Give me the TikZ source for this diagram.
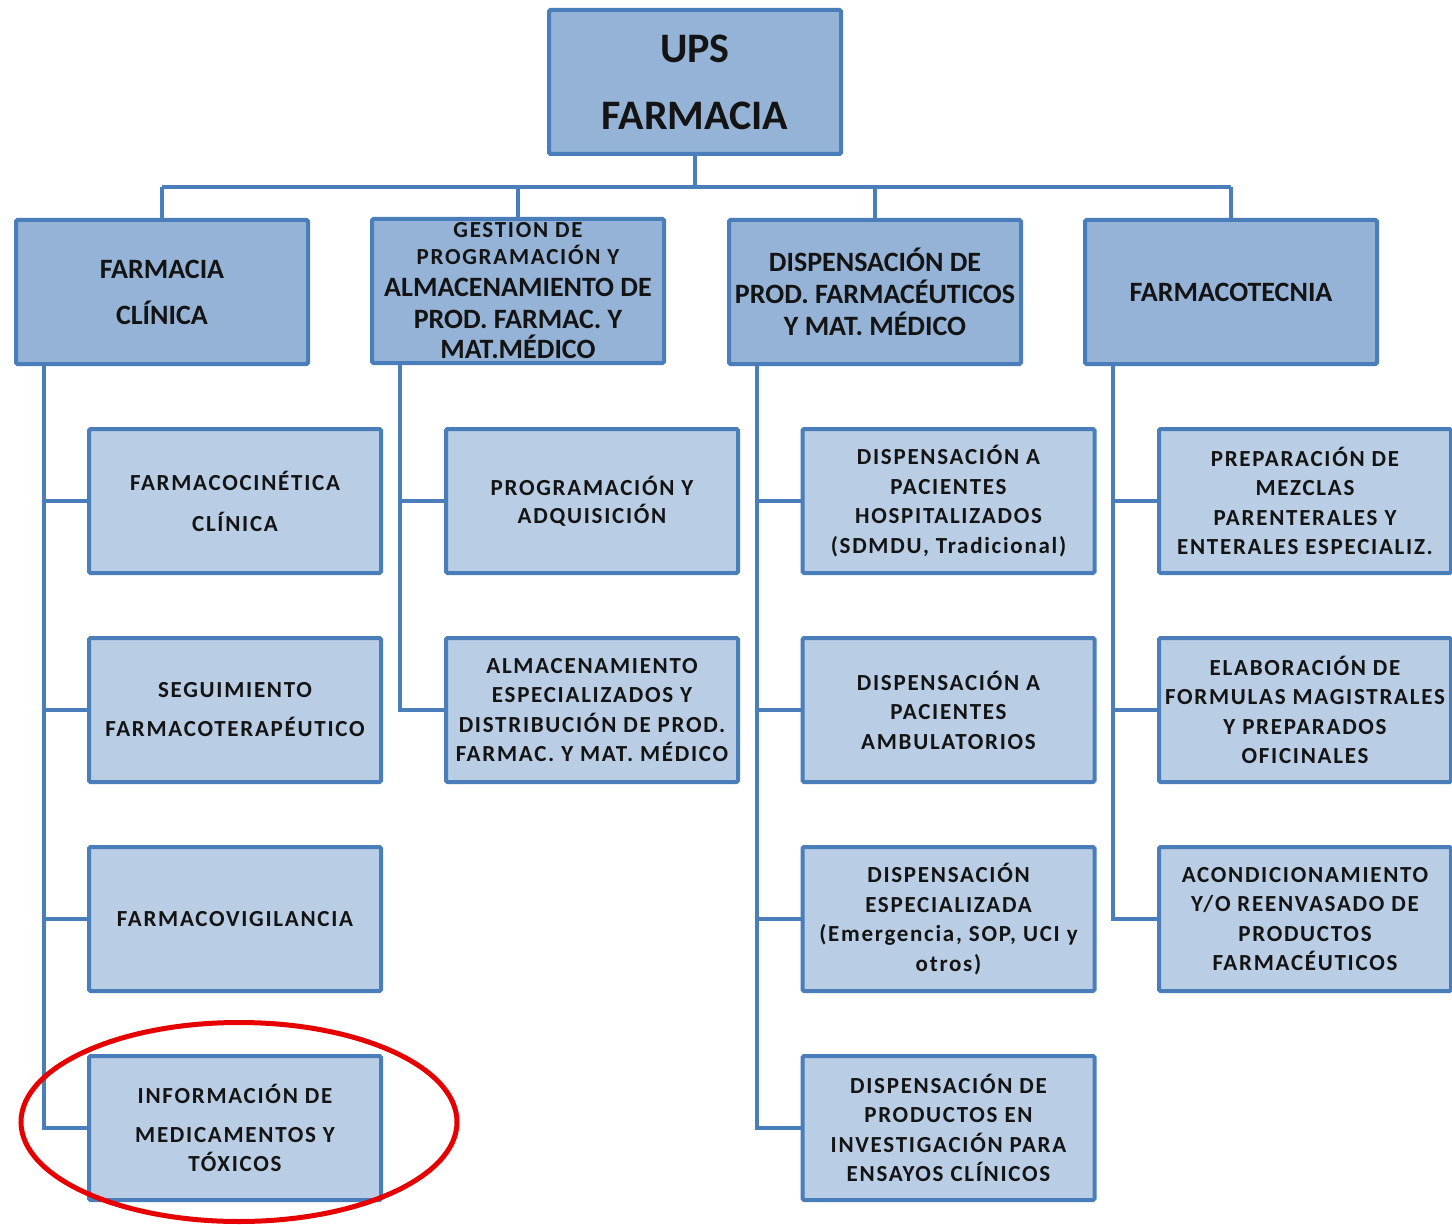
\documentclass[tikz,border=0pt]{standalone}
\usepackage{fontspec}
\setmainfont{Carlito}
\newfontfamily\cf{Carlito}[LetterSpace=7.5]
\usetikzlibrary{shapes.geometric}
\definecolor{bordc}{HTML}{4A7EBB}
\definecolor{topfill}{HTML}{95B3D7}
\definecolor{subfill}{HTML}{B9CDE5}
\definecolor{linkc}{HTML}{4A7EBB}
\definecolor{txt}{HTML}{141414}
\definecolor{hired}{HTML}{E60000}
\begin{document}
\begin{tikzpicture}[x=1pt,y=-1pt,
 topbox/.style={draw=bordc, fill=topfill, line width=4pt, rounded corners=1.5pt,
   minimum width=292pt, minimum height=144pt, align=center, inner sep=0pt,
   text=txt, font=\bfseries\fontsize{28}{32}\selectfont},
 subbox/.style={topbox, fill=subfill, font=\cf\bfseries\fontsize{23}{29.5}\selectfont},
 link/.style={draw=linkc, line width=3.8pt}]
\useasboundingbox (0,0) rectangle (1452,1225);
\fill[white] (0,0) rectangle (1452,1225);

% top levels
\node[topbox, font=\bfseries\fontsize{42}{67}\selectfont] (ups) at (695,82) {UPS\\FARMACIA};
\node[topbox] (fc) at (162,292) {FARMACIA\\[14pt]CLÍNICA};
\node[topbox] (gp) at (518,291) {{\cf\fontsize{23}{27}\selectfont GESTION DE}\\[-5pt]{\cf\fontsize{23}{27}\selectfont PROGRAMACIÓN Y}\\ALMACENAMIENTO DE\\PROD. FARMAC. Y\\[-2pt]MAT.MÉDICO};
\node[topbox] (dp) at (875,292) {DISPENSACIÓN DE\\PROD. FARMACÉUTICOS\\Y MAT. MÉDICO};
\node[topbox] (ft) at (1231,292) {FARMACOTECNIA};

% column 1
\node[subbox] (c11) at (235,501) {FARMACOCINÉTICA\\[11.5pt]CLÍNICA};
\node[subbox] (c12) at (235,710) {SEGUIMIENTO\\[9.5pt]FARMACOTERAPÉUTICO};
\node[subbox] (c13) at (235,919) {FARMACOVIGILANCIA};
\node[subbox] (c14) at (235,1128) {INFORMACIÓN DE\\[9.5pt]MEDICAMENTOS Y\\TÓXICOS};
% column 2
\node[subbox] (c21) at (592,501) {PROGRAMACIÓN Y\\[-1.5pt]ADQUISICIÓN};
\node[subbox] (c22) at (592,710) {ALMACENAMIENTO\\ESPECIALIZADOS Y\\DISTRIBUCIÓN DE PROD.\\FARMAC. Y MAT. MÉDICO};
% column 3
\node[subbox] (c31) at (948.5,501) {DISPENSACIÓN A\\PACIENTES\\HOSPITALIZADOS\\(SDMDU, Tradicional)};
\node[subbox] (c32) at (948.5,710) {DISPENSACIÓN A\\PACIENTES\\AMBULATORIOS};
\node[subbox] (c33) at (948.5,919) {DISPENSACIÓN\\ESPECIALIZADA\\(Emergencia, SOP, UCI y\\otros)};
\node[subbox] (c34) at (948.5,1128) {DISPENSACIÓN DE\\PRODUCTOS EN\\INVESTIGACIÓN PARA\\ENSAYOS CLÍNICOS};
% column 4
\node[subbox] (c41) at (1305,501) {PREPARACIÓN DE\\MEZCLAS\\PARENTERALES Y\\ENTERALES ESPECIALIZ.};
\node[subbox] (c42) at (1305,710) {ELABORACIÓN DE\\FORMULAS MAGISTRALES\\Y PREPARADOS\\OFICINALES};
\node[subbox] (c43) at (1305,919) {ACONDICIONAMIENTO\\Y/O REENVASADO DE\\PRODUCTOS\\FARMACÉUTICOS};

% connectors
\coordinate (bus) at (695,187);
\draw[link] (ups.south) -- (ups.south |- bus);
\draw[link] (fc.north |- bus) -- (ft.north |- bus);
\foreach \n in {fc,gp,dp,ft} \draw[link] (\n.north) -- (\n.north |- bus);

\coordinate (s1) at (44,366);
\coordinate (s2) at (400,366);
\coordinate (s3) at (757,366);
\coordinate (s4) at (1113,366);

\draw[link] (s1 |- fc.south) -- (s1 |- c14.west) -- (c14.west);
\foreach \n in {c11,c12,c13} \draw[link] (s1 |- \n.west) -- (\n.west);
\draw[link] (s2 |- gp.south) -- (s2 |- c22.west) -- (c22.west);
\draw[link] (s2 |- c21.west) -- (c21.west);
\draw[link] (s3 |- dp.south) -- (s3 |- c34.west) -- (c34.west);
\foreach \n in {c31,c32,c33} \draw[link] (s3 |- \n.west) -- (\n.west);
\draw[link] (s4 |- ft.south) -- (s4 |- c43.west) -- (c43.west);
\foreach \n in {c41,c42} \draw[link] (s4 |- \n.west) -- (\n.west);

% highlight
\node[ellipse, draw=hired, line width=5pt, minimum width=436pt, minimum height=199pt, inner sep=0pt] (hl) at (239,1122) {};
\end{tikzpicture}
\end{document}
